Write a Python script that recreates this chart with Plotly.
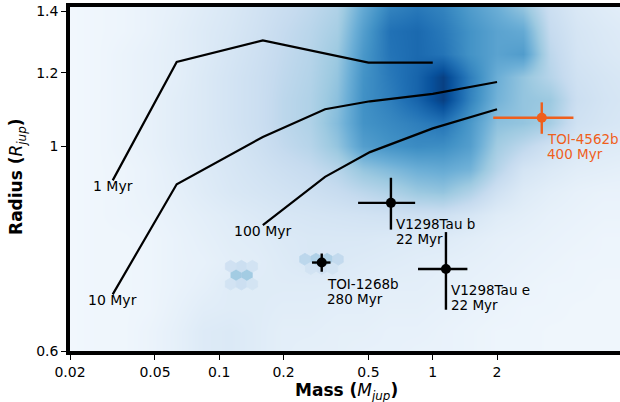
import numpy as np
import plotly.graph_objects as go

# ---- population density (hexbin-style background), log-mass columns x log-radius rows ----
density_logm = [-1.70, -1.575, -1.45, -1.325, -1.20, -1.075, -0.95, -0.825, -0.70, -0.575, -0.45,
                -0.325, -0.20, -0.075, 0.05, 0.175, 0.30, 0.425, 0.55, 0.675, 0.80, 0.925]
# rows listed from the top of the panel downwards
density_logr = [0.150, 0.125, 0.100, 0.075, 0.050, 0.025, 0.000, -0.025, -0.050, -0.075,
                -0.100, -0.125, -0.150, -0.175, -0.200, -0.225]
density = [
    [.03, .04, .05, .07, .09, .12, .15, .19, .23, .27, .32, .52, .68, .72, .68, .58, .50, .40, .22, .15, .12, .10],
    [.03, .04, .05, .07, .10, .13, .16, .20, .25, .29, .35, .57, .75, .78, .72, .62, .55, .52, .25, .17, .14, .12],
    [.03, .04, .06, .08, .10, .13, .17, .21, .26, .30, .38, .60, .74, .78, .74, .62, .55, .58, .28, .18, .15, .13],
    [.03, .04, .06, .08, .10, .14, .18, .22, .27, .31, .40, .62, .72, .80, .94, .70, .50, .40, .30, .20, .17, .15],
    [.03, .04, .06, .08, .11, .14, .18, .22, .28, .32, .42, .63, .70, .80, .94, .68, .48, .40, .38, .22, .18, .16],
    [.03, .04, .06, .08, .11, .14, .18, .22, .28, .32, .44, .62, .66, .70, .74, .60, .42, .40, .35, .20, .17, .15],
    [.03, .04, .06, .08, .11, .14, .17, .21, .26, .30, .40, .57, .62, .65, .64, .57, .36, .28, .20, .15, .13, .12],
    [.03, .04, .05, .07, .10, .13, .16, .19, .22, .25, .30, .40, .45, .50, .52, .48, .30, .18, .14, .11, .10, .09],
    [.03, .04, .05, .07, .09, .12, .15, .17, .19, .21, .24, .28, .32, .38, .40, .32, .20, .13, .10, .08, .07, .07],
    [.03, .04, .05, .06, .08, .10, .12, .14, .16, .17, .18, .19, .20, .21, .21, .17, .12, .10, .08, .07, .06, .06],
    [.03, .04, .04, .05, .07, .09, .11, .12, .14, .15, .15, .15, .14, .13, .13, .11, .09, .08, .07, .06, .05, .05],
    [.03, .04, .04, .05, .07, .08, .10, .11, .13, .15, .14, .13, .12, .11, .10, .09, .08, .07, .06, .05, .05, .05],
    [.03, .04, .04, .05, .07, .09, .12, .12, .12, .12, .12, .11, .10, .10, .09, .08, .07, .06, .05, .05, .04, .04],
    [.03, .04, .04, .05, .08, .11, .12, .12, .11, .11, .10, .10, .09, .09, .08, .07, .06, .05, .05, .04, .04, .04],
    [.03, .04, .04, .06, .09, .13, .14, .12, .10, .10, .09, .09, .08, .08, .07, .06, .05, .05, .04, .04, .04, .04],
    [.03, .04, .04, .06, .09, .13, .14, .12, .10, .09, .09, .08, .08, .07, .07, .06, .05, .05, .04, .04, .04, .04],
]

# individual low-mass hexbin cells that stand out from the smooth background
hex_mass = [0.120, 0.135, 0.113, 0.127, 0.143, 0.113, 0.127, 0.143,
            0.252, 0.284, 0.320, 0.360, 0.268, 0.302, 0.339]
hex_radius = [0.725, 0.725, 0.741, 0.741, 0.741, 0.709, 0.709, 0.709,
              0.754, 0.754, 0.754, 0.754, 0.737, 0.737, 0.737]
hex_level = [0.36, 0.36, 0.20, 0.22, 0.19, 0.19, 0.22, 0.18,
             0.28, 0.32, 0.32, 0.26, 0.19, 0.20, 0.18]

# ---- isochrones (mass in M_jup, radius in R_jup) ----
iso_labels = ["1 Myr", "10 Myr", "100 Myr"]
iso_1_mass = [0.0317, 0.0632, 0.160, 0.50, 1.0]
iso_1_radius = [0.918, 1.233, 1.301, 1.231, 1.231]
iso_10_mass = [0.0317, 0.0632, 0.160, 0.313, 0.508, 1.0, 2.0]
iso_10_radius = [0.691, 0.909, 1.023, 1.096, 1.118, 1.139, 1.173]
iso_100_mass = [0.160, 0.313, 0.508, 1.0, 2.0]
iso_100_radius = [0.821, 0.926, 0.985, 1.045, 1.096]

# ---- young planets ----
planet_names = ["V1298Tau b", "V1298Tau e", "TOI-1268b", "TOI-4562b"]
planet_ages = ["22 Myr", "22 Myr", "280 Myr", "400 Myr"]
planet_mass = [0.637, 1.153, 0.302, 3.24]
planet_mass_err = [0.19, 0.30, 0.03, 1.32]
planet_radius = [0.868, 0.736, 0.748, 1.073]
planet_radius_err = [0.056, 0.071, 0.017, 0.042]
planet_colors = ["black", "black", "black", "#EF5F1C"]

x_ticks = [0.02, 0.05, 0.1, 0.2, 0.5, 1, 2]
x_ticktext = ["0.02", "0.05", "0.1", "0.2", "0.5", "1", "2"]
y_ticks = [0.6, 1, 1.2, 1.4]
y_ticktext = ["0.6", "1", "1.2", "1.4"]

blues = [[0.0, "#f7fbff"], [0.125, "#deebf7"], [0.25, "#c6dbef"], [0.375, "#9ecae1"],
         [0.5, "#6baed6"], [0.625, "#4292c6"], [0.75, "#2171b5"], [0.875, "#08519c"],
         [1.0, "#08306b"]]

FONT = "DejaVu Sans"
fig = go.Figure()

fig.add_trace(go.Heatmap(
    x=[10 ** v for v in density_logm],
    y=[10 ** v for v in density_logr[::-1]],
    z=density[::-1],
    colorscale=blues, zmin=0, zmax=1, zsmooth="best",
    showscale=False, hoverinfo="skip",
))

fig.add_trace(go.Scatter(
    x=hex_mass, y=hex_radius, mode="markers",
    marker=dict(symbol="hexagon", size=12, color=hex_level, colorscale=blues,
                cmin=0, cmax=1,
                line=dict(width=0.8, color=hex_level, colorscale=blues, cmin=0, cmax=1)),
    showlegend=False, hoverinfo="skip"))

for label, m, r in zip(iso_labels,
                       [iso_1_mass, iso_10_mass, iso_100_mass],
                       [iso_1_radius, iso_10_radius, iso_100_radius]):
    fig.add_trace(go.Scatter(x=m, y=r, mode="lines",
                             line=dict(color="black", width=2.2),
                             showlegend=False, hoverinfo="skip"))
    fig.add_annotation(x=np.log10(m[0]), y=np.log10(r[0]), text=label,
                       showarrow=False, xanchor="center", yanchor="middle",
                       yshift=-6, font=dict(family=FONT, size=14, color="black"))

for name, age, m, me, r, re_, c in zip(planet_names, planet_ages, planet_mass,
                                       planet_mass_err, planet_radius,
                                       planet_radius_err, planet_colors):
    fig.add_trace(go.Scatter(
        x=[m], y=[r], mode="markers",
        marker=dict(color=c, size=10),
        error_x=dict(type="data", array=[me], color=c, thickness=2.4, width=0),
        error_y=dict(type="data", array=[re_], color=c, thickness=2.4, width=0),
        showlegend=False, hoverinfo="skip"))
    for txt, dy in ((name, -21), (age, -36)):
        fig.add_annotation(x=np.log10(m), y=np.log10(r), text=txt, showarrow=False,
                           xanchor="left", yanchor="middle", xshift=3, yshift=dy,
                           font=dict(family=FONT, size=13.5, color=c))

fig.add_annotation(xref="paper", yref="paper", x=0.5036, y=-0.118,
                   text="<b>Mass (</b><i>M<sub>jup</sub></i><b>)</b>",
                   showarrow=False, xanchor="center", yanchor="middle",
                   font=dict(family=FONT, size=17, color="black"))
fig.add_annotation(xref="paper", yref="paper", x=-0.0945, y=0.506,
                   text="<b>Radius (</b><i>R<sub>jup</sub></i><b>)</b>",
                   showarrow=False, xanchor="center", yanchor="middle", textangle=-90,
                   font=dict(family=FONT, size=17, color="black"))

fig.update_xaxes(type="log", range=[np.log10(0.02), 0.877],
                 tickvals=x_ticks, ticktext=x_ticktext,
                 showline=True, linewidth=3.5, linecolor="black", mirror=True,
                 ticks="outside", ticklen=5, tickwidth=1.2, tickcolor="black",
                 showgrid=False, zeroline=False,
                 tickfont=dict(family=FONT, size=14, color="black"))
fig.update_yaxes(type="log", range=[np.log10(0.6), 0.1505],
                 tickvals=y_ticks, ticktext=y_ticktext,
                 showline=True, linewidth=3.5, linecolor="black", mirror=False,
                 ticks="outside", ticklen=5, tickwidth=1.2, tickcolor="black",
                 showgrid=False, zeroline=False,
                 tickfont=dict(family=FONT, size=14, color="black"))

fig.update_layout(width=620, height=402,
                  margin=dict(l=70, r=0, t=7, b=51),
                  paper_bgcolor="white", plot_bgcolor="#f2f7fd",
                  showlegend=False)

fig.write_html("out.html")
